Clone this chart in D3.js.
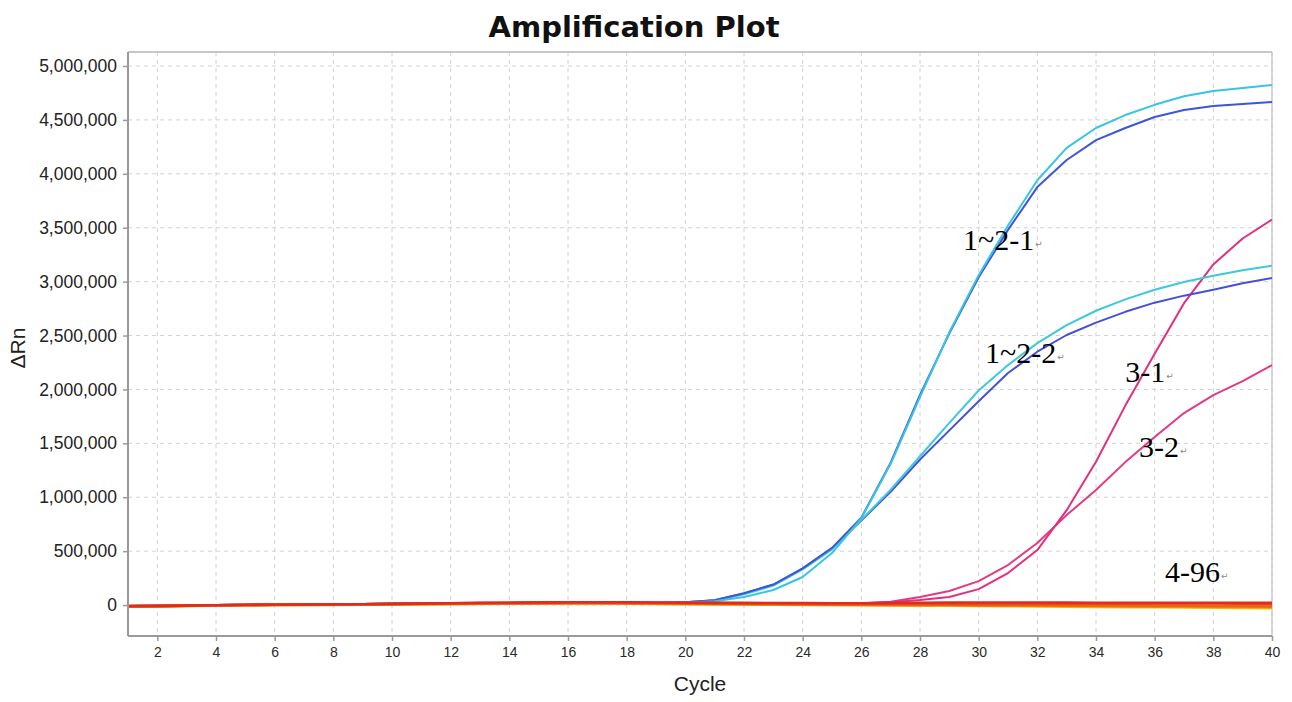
<!DOCTYPE html>
<html>
<head>
<meta charset="utf-8">
<script src="https://cdn.jsdelivr.net/npm/d3@7"></script>
<style>
  html, body { margin: 0; padding: 0; background: #fff; }
  svg { display: block; }
</style>
</head>
<body>
<svg id="chart"></svg>
<script>
// cycles 1..40
var cycles = d3.range(1, 41);

var xTicks = d3.range(2, 41, 2);
var yTicks = [0, 500000, 1000000, 1500000, 2000000, 2500000, 3000000, 3500000, 4000000, 4500000, 5000000];

// amplification curves (delta Rn per cycle)
var cyan121 = [-8000,-6000,-2000,1000,3000,5000,6000,8000,10000,12000,14000,16000,18000,20000,21000,22000,22000,21000,20000,22000,35000,75000,140000,260000,482000,805000,1310000,1930000,2530000,3060000,3520000,3940000,4240000,4425000,4545000,4640000,4720000,4768000,4796000,4824000];
var blue121 = [-8000,-6000,-2000,1000,3000,5000,6000,8000,10000,12000,14000,16000,18000,20000,21000,22000,22000,21000,20000,25000,45000,110000,190000,340000,530000,810000,1320000,1950000,2520000,3040000,3480000,3877000,4128000,4313000,4425000,4527000,4592000,4629000,4647000,4666000];
var cyan122 = [-8000,-6000,-2000,1000,3000,5000,6000,8000,10000,12000,14000,16000,18000,20000,21000,22000,22000,21000,20000,25000,42000,100000,180000,330000,515000,790000,1070000,1380000,1690000,1990000,2226000,2430000,2597000,2730000,2835000,2925000,2996000,3055000,3105000,3148000];
var blue122 = [-8000,-6000,-2000,1000,3000,5000,6000,8000,10000,12000,14000,16000,18000,20000,21000,22000,22000,21000,20000,25000,45000,108000,188000,338000,525000,785000,1050000,1350000,1620000,1890000,2152000,2350000,2505000,2620000,2720000,2805000,2870000,2925000,2985000,3033000];
var pink31 = [-8000,-6000,-2000,1000,3000,5000,6000,8000,10000,12000,14000,16000,18000,20000,21000,22000,22000,21000,20000,19000,18000,17000,16000,15000,15000,16000,25000,46000,74000,148000,297000,510000,880000,1330000,1850000,2330000,2800000,3160000,3400000,3575000];
var pink32 = [-8000,-6000,-2000,1000,3000,5000,6000,8000,10000,12000,14000,16000,18000,20000,21000,22000,22000,21000,20000,19000,18000,17000,16000,15000,15000,17000,30000,74000,130000,222000,371000,575000,835000,1067000,1326000,1558000,1781000,1948000,2078000,2226000];

// flat wells 4-96
var yellowBase = [-14000,-13000,-9000,-5000,-2000,0,1000,2000,3000,5000,7000,9000,11000,12000,13000,14000,14000,13000,11000,9000,7000,5000,3000,1000,0,-1000,-3000,-5000,-7000,-9000,-11000,-13000,-15000,-17000,-19000,-21000,-23000,-25000,-26000,-28000];
var darkOrangeBase = [-13000,-12000,-8000,-4000,-1000,1000,2000,3000,5000,7000,9000,11000,13000,14000,15000,16000,16000,15000,13000,11000,9000,7000,5000,3000,2000,1000,0,-1000,-2000,-4000,-6000,-7000,-9000,-10000,-12000,-13000,-14000,-16000,-17000,-19000];
var orangeBase2 = [-12000,-11000,-7000,-3000,0,2000,3000,4000,6000,8000,10000,12000,14000,16000,17000,18000,18000,17000,15000,13000,11000,9000,7000,5000,4000,3000,2000,1000,0,-1000,-3000,-4000,-6000,-7000,-9000,-10000,-11000,-13000,-14000,-15000];
var orangeBase1 = [-10000,-9000,-5000,-2000,1000,3000,4000,5000,7000,9000,12000,14000,16000,18000,20000,21000,21000,20000,18000,16000,14000,12000,10000,8000,7000,6000,5000,4000,3000,2000,1000,0,-1000,-2000,-3000,-4000,-5000,-6000,-7000,-8000];
var redBase2 = [-11000,-10000,-6000,-2000,1000,3000,4000,6000,8000,10000,13000,16000,19000,21000,23000,25000,25000,24000,22000,20000,18000,16000,15000,14000,13000,12000,13000,14000,15000,16000,16000,16000,15000,15000,15000,14000,14000,14000,13000,13000];
var redBase1 = [-9000,-8000,-4000,-1000,2000,4000,5000,7000,9000,12000,15000,18000,21000,23000,25000,27000,27000,26000,25000,23000,22000,21000,20000,19000,18000,18000,20000,22000,24000,25000,25000,24000,24000,23000,23000,23000,22000,22000,22000,21000];

// draw order: amplified wells first, flat wells on top
var seriesList = [
  { values: pink32,  color: "#e23a85", w: 2 },
  { values: pink31,  color: "#e0307f", w: 2 },
  { values: blue122, color: "#4650d6", w: 2 },
  { values: cyan122, color: "#3cc9dc", w: 2 },
  { values: blue121, color: "#3d55d8", w: 2 },
  { values: cyan121, color: "#38c4e2", w: 2 },
  { values: yellowBase,     color: "#f2bf00", w: 2.6 },
  { values: darkOrangeBase, color: "#ef9a0c", w: 2.6 },
  { values: orangeBase2,    color: "#ec7812", w: 2.6 },
  { values: orangeBase1,    color: "#ea6418", w: 2.6 },
  { values: redBase2,       color: "#e8401c", w: 2.6 },
  { values: redBase1,       color: "#e22a20", w: 2.4 }
];

// well labels, anchored in data space (cycle, delta Rn)
var labelNames  = ["1~2-1", "1~2-2", "3-1", "3-2", "4-96"];
var labelCycles = [29.47, 30.22, 35.0, 35.47, 36.35];
var labelValues = [3290000, 2245000, 2068000, 1373000, 213000];

var W = 1292, H = 702;
var margin = { top: 52, right: 20, bottom: 66, left: 128 };

var svg = d3.select("#chart")
    .attr("width", W)
    .attr("height", H)
    .attr("viewBox", "0 0 " + W + " " + H);

var x = d3.scaleLinear()
    .domain([1, 40])
    .range([margin.left, W - margin.right]);

var y = d3.scaleLinear()
    .domain([-287000, 5130000])
    .range([H - margin.bottom, margin.top]);

var x0 = x.range()[0], x1 = x.range()[1],
    yB = y.range()[0], yT = y.range()[1];

/*
 *    G R I D
 */
var grid = svg.append("g").attr("class", "grid");

grid.selectAll(".vgrid")
  .data(xTicks)
  .enter().append("line")
    .attr("class", "vgrid")
    .attr("x1", function(d) { return x(d); })
    .attr("x2", function(d) { return x(d); })
    .attr("y1", yT)
    .attr("y2", yB)
    .style("stroke", "#d2d2d2")
    .style("stroke-width", 1)
    .style("stroke-dasharray", "4,4");

grid.selectAll(".hgrid")
  .data(yTicks)
  .enter().append("line")
    .attr("class", "hgrid")
    .attr("x1", x0)
    .attr("x2", x1)
    .attr("y1", function(d) { return y(d); })
    .attr("y2", function(d) { return y(d); })
    .style("stroke", "#d2d2d2")
    .style("stroke-width", 1)
    .style("stroke-dasharray", "4,4");

// frame: top and right
svg.append("line")
    .attr("x1", x0).attr("x2", x1).attr("y1", yT).attr("y2", yT)
    .style("stroke", "#b4b4b4").style("stroke-width", 1.5);
svg.append("line")
    .attr("x1", x1).attr("x2", x1).attr("y1", yT).attr("y2", yB)
    .style("stroke", "#c8c8c8").style("stroke-width", 1.5);

/*
 *    C U R V E S
 */
svg.append("defs").append("clipPath").attr("id", "plotClip")
  .append("rect")
    .attr("x", x0).attr("y", yT)
    .attr("width", x1 - x0).attr("height", yB - yT);

var line = d3.line()
    .x(function(d, i) { return x(cycles[i]); })
    .y(function(d) { return y(d); });

svg.append("g")
    .attr("clip-path", "url(#plotClip)")
  .selectAll(".curve")
  .data(seriesList)
  .enter().append("path")
    .attr("class", "curve")
    .attr("d", function(d) { return line(d.values); })
    .style("fill", "none")
    .style("stroke", function(d) { return d.color; })
    .style("stroke-width", function(d) { return d.w; })
    .style("stroke-linejoin", "round");

/*
 *    A X E S
 */
var xAxis = svg.append("g")
    .attr("transform", "translate(0," + yB + ")")
    .call(d3.axisBottom(x).tickValues(xTicks).tickSize(5).tickPadding(6));

xAxis.select(".domain").style("stroke", "#9a9a9a").style("stroke-width", 2);
xAxis.selectAll(".tick line").style("stroke", "#9a9a9a").style("stroke-width", 1.5);
xAxis.selectAll(".tick text")
    .style("font-family", "'Liberation Sans', Arial, sans-serif")
    .style("font-size", "14px")
    .style("fill", "#2a2a2a");

var yAxis = svg.append("g")
    .attr("transform", "translate(" + x0 + ",0)")
    .call(d3.axisLeft(y).tickValues(yTicks).tickSize(5).tickPadding(6)
      .tickFormat(d3.format(",")));

yAxis.select(".domain").style("stroke", "#9a9a9a").style("stroke-width", 2);
yAxis.selectAll(".tick line").style("stroke", "#9a9a9a").style("stroke-width", 1.5);
yAxis.selectAll(".tick text")
    .style("font-family", "'Liberation Sans', Arial, sans-serif")
    .style("font-size", "17.5px")
    .style("fill", "#222");

// plain domain lines, no end caps
xAxis.select(".domain").attr("d", "M" + x0 + ",0H" + x1);
yAxis.select(".domain").attr("d", "M0," + yB + "V" + yT);

/*
 *    L A B E L S
 */
svg.append("text")
    .attr("x", 634)
    .attr("y", 37)
    .attr("text-anchor", "middle")
    .style("font-family", "'DejaVu Sans', Verdana, sans-serif")
    .style("font-weight", "bold")
    .style("font-size", "29px")
    .style("fill", "#111")
    .text("Amplification Plot");

svg.append("text")
    .attr("x", (x0 + x1) / 2)
    .attr("y", 691)
    .attr("text-anchor", "middle")
    .style("font-family", "'Liberation Sans', Arial, sans-serif")
    .style("font-size", "21px")
    .style("fill", "#222")
    .text("Cycle");

svg.append("text")
    .attr("transform", "translate(25," + ((yT + yB) / 2 + 4) + ") rotate(-90)")
    .attr("text-anchor", "middle")
    .style("font-family", "'Liberation Sans', Arial, sans-serif")
    .style("font-size", "21px")
    .style("fill", "#222")
    .text("\u0394Rn");

var wellLabels = svg.selectAll(".wellLabel")
  .data(labelNames)
  .enter().append("text")
    .attr("class", "wellLabel")
    .attr("x", function(d, i) { return x(labelCycles[i]); })
    .attr("y", function(d, i) { return y(labelValues[i]); })
    .style("font-family", "'Liberation Serif', 'Times New Roman', serif")
    .style("font-size", "30px")
    .style("fill", "#000");

wellLabels.append("tspan").text(function(d) { return d; });
wellLabels.append("tspan")
    .attr("dx", 1)
    .attr("dy", -3)
    .style("font-family", "'DejaVu Sans', sans-serif")
    .style("font-size", "9px")
    .style("fill", "#8a8a8a")
    .text("\u21b5");
</script>
</body>
</html>
